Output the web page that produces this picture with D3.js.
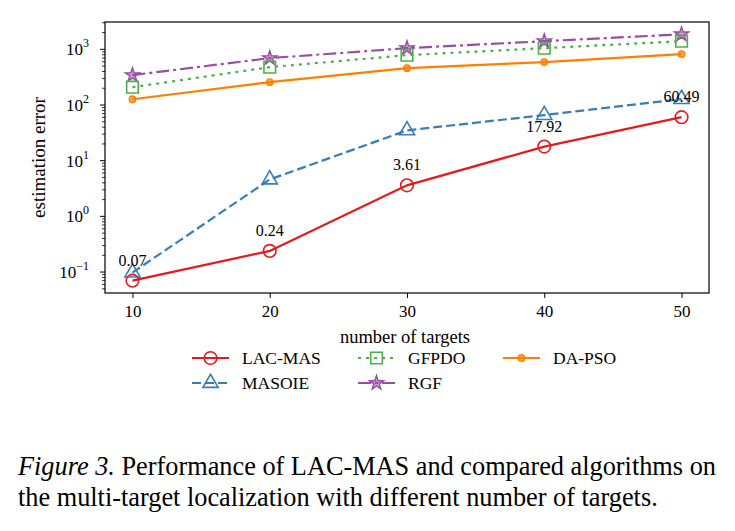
<!DOCTYPE html>
<html>
<head>
<meta charset="utf-8">
<script src="https://cdn.jsdelivr.net/npm/d3@7"></script>
<style>
  body { margin: 0; background: #fff; }
  svg { display: block; font-family: "Liberation Serif", "DejaVu Serif", serif; }
</style>
</head>
<body>
<div id="chart"></div>
<script>
// CHART DATA
const targets = [10, 20, 30, 40, 50];
const lacMas = [0.07, 0.24, 3.61, 17.92, 60.49];
const masoie = [0.098, 4.6, 35, 66, 128];
const gfpdo = [209, 478, 787, 1050, 1400];
const rgf = [344, 695, 1050, 1400, 1860];
const daPso = [127, 257, 459, 590, 820];
const labels = ["0.07", "0.24", "3.61", "17.92", "60.49"];

const series = [
  { name: "LAC-MAS", values: lacMas, color: "#e41a1c", dash: null, marker: "circle" },
  { name: "MASOIE", values: masoie, color: "#377eb8", dash: "9,4", marker: "triangle" },
  { name: "GFPDO", values: gfpdo, color: "#4daf4a", dash: "3,5", marker: "square" },
  { name: "RGF", values: rgf, color: "#984ea3", dash: "13,4,3,4", marker: "star" },
  { name: "DA-PSO", values: daPso, color: "#ff7f00", dash: null, marker: "dot" }
];

const width = 735, height = 531;
const plotLeft = 105, plotRight = 709, plotTop = 22, plotBottom = 293;

const svg = d3.select("#chart").append("svg")
  .attr("width", width)
  .attr("height", height);

// SCALES (log axis with 5% margin like matplotlib)
const x = d3.scaleLinear().domain([8, 52]).range([plotLeft, plotRight]);
const all = series.flatMap(s => s.values);
const lo = Math.log10(d3.min(all)), hi = Math.log10(d3.max(all));
const pad = (hi - lo) * 0.05;
const y = d3.scaleLog().domain([10 ** (lo - pad), 10 ** (hi + pad)]).range([plotBottom, plotTop]);

// X AXIS
const xAxis = svg.append("g").attr("transform", `translate(0,${plotBottom})`)
  .call(d3.axisBottom(x).tickValues(targets).tickSize(5).tickPadding(7));
xAxis.select(".domain").remove();
xAxis.selectAll("text").attr("font-size", 17).attr("font-family", "Liberation Serif").attr("fill", "#000");

// Y AXIS - minor ticks
const minor = [];
for (let e = -2; e <= 3; e++) {
  for (let m = 2; m <= 9; m++) {
    const v = m * 10 ** e;
    if (v >= y.domain()[0] && v <= y.domain()[1]) minor.push(v);
  }
}
const majors = [-1, 0, 1, 2, 3];
const yg = svg.append("g");
yg.selectAll("line.minor").data(minor).join("line")
  .attr("x1", plotLeft - 3).attr("x2", plotLeft)
  .attr("y1", d => y(d)).attr("y2", d => y(d))
  .attr("stroke", "#000").attr("stroke-width", 0.8);
yg.selectAll("line.major").data(majors).join("line")
  .attr("x1", plotLeft - 5).attr("x2", plotLeft)
  .attr("y1", d => y(10 ** d)).attr("y2", d => y(10 ** d))
  .attr("stroke", "#000").attr("stroke-width", 1);
const yl = yg.selectAll("text.lab").data(majors).join("text")
  .attr("x", plotLeft - 16)
  .attr("y", d => y(10 ** d) + 6)
  .attr("text-anchor", "end")
  .attr("font-size", 17);
yl.append("tspan").text("10");
yl.append("tspan").attr("dy", -8).attr("font-size", 12).text(d => d < 0 ? "\u2212" + Math.abs(d) : d);

// AXIS LABELS
svg.append("text")
  .attr("transform", `translate(45,${(plotTop + plotBottom) / 2}) rotate(-90)`)
  .attr("text-anchor", "middle").attr("font-size", 19)
  .text("estimation error");
svg.append("text")
  .attr("x", 405).attr("y", 343)
  .attr("text-anchor", "middle").attr("font-size", 18.5)
  .text("number of targets");

// MARKERS
function drawMarker(g, type, color) {
  if (type === "circle") {
    g.append("circle").attr("r", 6.3).attr("fill", "none").attr("stroke", color).attr("stroke-width", 1.6);
  } else if (type === "triangle") {
    g.append("path").attr("d", d3.symbol(d3.symbolTriangle, 100)()).attr("fill", "none")
      .attr("stroke", color).attr("stroke-width", 1.6);
  } else if (type === "square") {
    g.append("path").attr("d", d3.symbol(d3.symbolSquare, 135)()).attr("fill", "none")
      .attr("stroke", color).attr("stroke-width", 1.6);
  } else if (type === "star") {
    g.append("path").attr("d", d3.symbol(d3.symbolStar, 62)()).attr("fill", color).attr("fill-opacity", 0.55)
      .attr("stroke", color).attr("stroke-width", 1.4);
  } else {
    g.append("circle").attr("r", 3.3).attr("fill", color).attr("fill-opacity", 0.7)
      .attr("stroke", color).attr("stroke-width", 1.2);
  }
}

const line = d3.line().x((d, i) => x(targets[i])).y(d => y(d));
const plot = svg.append("g");

// draw in reverse so LAC-MAS sits on top
[...series].reverse().forEach(s => {
  plot.append("path").datum(s.values)
    .attr("d", line)
    .attr("fill", "none")
    .attr("stroke", s.color)
    .attr("stroke-width", 2.2)
    .attr("stroke-dasharray", s.dash);
  s.values.forEach((v, i) => {
    const g = plot.append("g").attr("transform", `translate(${x(targets[i])},${y(v)})`);
    drawMarker(g, s.marker, s.color);
  });
});

// VALUE LABELS FOR LAC-MAS
plot.selectAll("text.val").data(lacMas).join("text")
  .attr("x", (d, i) => x(targets[i]))
  .attr("y", d => y(d) - 15)
  .attr("text-anchor", "middle")
  .attr("font-size", 16)
  .text((d, i) => labels[i]);

// FRAME
svg.append("rect")
  .attr("x", plotLeft).attr("y", plotTop)
  .attr("width", plotRight - plotLeft).attr("height", plotBottom - plotTop)
  .attr("fill", "none").attr("stroke", "#000").attr("stroke-width", 1.2);

// LEGEND (3 columns, 2 rows)
const legendPos = [
  [192, 358], [192, 383], [358, 358], [358, 383], [503, 358]
];
series.forEach((s, i) => {
  const [lx, ly] = legendPos[i];
  const g = svg.append("g").attr("transform", `translate(${lx},${ly})`);
  g.append("line").attr("x1", 0).attr("x2", 37).attr("y1", 0).attr("y2", 0)
    .attr("stroke", s.color).attr("stroke-width", 2.2).attr("stroke-dasharray", s.dash);
  const m = g.append("g").attr("transform", "translate(18.5,0)");
  drawMarker(m, s.marker, s.color);
  g.append("text").attr("x", 50).attr("y", 6).attr("font-size", 17.5).text(s.name);
});

// CAPTION
const cap = svg.append("text").attr("font-size", 26.3).attr("x", 18);
const c1 = cap.append("tspan").attr("x", 18).attr("y", 475);
c1.append("tspan").attr("font-style", "italic").text("Figure 3.");
c1.append("tspan").text(" Performance of LAC-MAS and compared algorithms on");
cap.append("tspan").attr("x", 18).attr("y", 506)
  .text("the multi-target localization with different number of targets.");
</script>
</body>
</html>
